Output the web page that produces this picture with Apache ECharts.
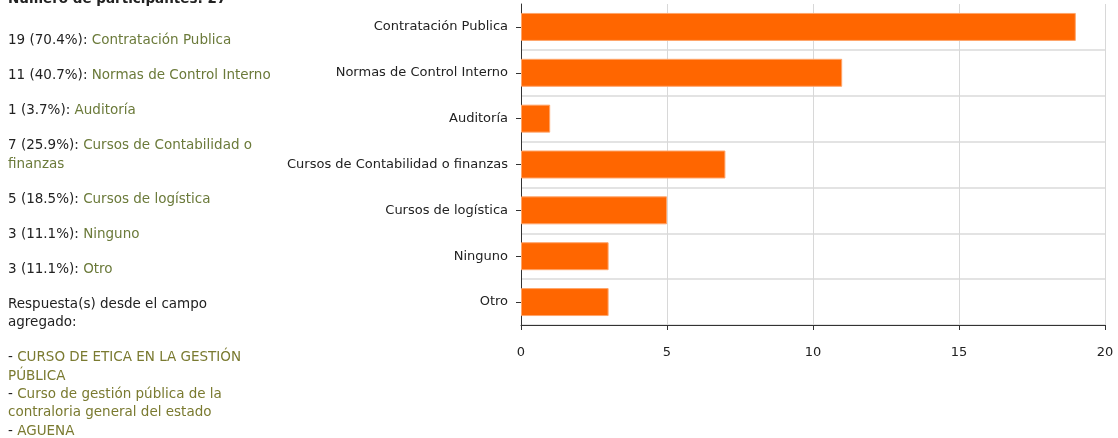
<!DOCTYPE html>
<html>
<head>
<meta charset="utf-8">
<script src="https://cdn.jsdelivr.net/npm/echarts@6/dist/echarts.min.js"></script>
<style>
  html, body { margin: 0; padding: 0; background: #fff; overflow: hidden; }
  #chart { position: absolute; left: 0; top: 0; width: 1118px; height: 438px; }
  #side {
    position: absolute; left: 8px; top: -5px; width: 272px;
    font-family: "DejaVu Sans", Verdana, sans-serif; font-size: 13.5px;
    line-height: 18.3px; color: #222;
  }
  #side p { margin: 0 0 16.8px 0; }
  #side p.head { font-weight: bold; position: relative; top: -6px; }
  #side p.narrow { width: 235px; }
  #side div { width: 245px; }
  #side .lbl { color: #6b7a3a; }
  #side .extra { color: #7a7a30; }
</style>
</head>
<body>
<div id="chart"></div>
<div id="side"></div>
<script>
// categorias y conteos
const categories = [
  'Contratación Publica',
  'Normas de Control Interno',
  'Auditoría',
  'Cursos de Contabilidad o finanzas',
  'Cursos de logística',
  'Ninguno',
  'Otro'
]
const counts = [19, 11, 1, 7, 5, 3, 3]
const totalParticipants = 27
const xTicks = [0, 5, 10, 15, 20]
const extraAnswers = [
  'CURSO DE ETICA EN LA GESTIÓN PÚBLICA',
  'Curso de gestión pública de la contraloria general del estado',
  'AGUENA'
]

// panel de texto a la izquierda
let html = '<p class="head">Número de participantes: ' + totalParticipants + '</p>'
categories.forEach((c, i) => {
  const pct = (counts[i] / totalParticipants * 100).toFixed(1)
  html += '<p>' + counts[i] + ' (' + pct + '%): <span class="lbl">' + c + '</span></p>'
})
html += '<p class="narrow">Respuesta(s) desde el campo agregado:</p>'
html += '<div>' + extraAnswers.map(a => '- <span class="extra">' + a + '</span>').join('<br>') + '</div>'
document.getElementById('side').innerHTML = html

const chart = echarts.init(document.getElementById('chart'), null, { renderer: 'canvas' })

const option = {
  animation: false,
  textStyle: { fontFamily: 'DejaVu Sans, Verdana, sans-serif' },
  grid: { left: 521, right: 13, top: 4, bottom: 113, containLabel: false },
  xAxis: {
    type: 'value',
    min: xTicks[0],
    max: xTicks[xTicks.length - 1],
    interval: 5,
    axisLine: { show: true, lineStyle: { color: '#333', width: 1 } },
    axisTick: { show: true, length: 5, lineStyle: { color: '#333' } },
    axisLabel: { color: '#222', fontSize: 13, margin: 21 },
    splitLine: { show: true, lineStyle: { color: '#d8d8d8' } }
  },
  yAxis: {
    type: 'category',
    data: categories,
    inverse: true,
    axisLine: { show: true, lineStyle: { color: '#333', width: 1 } },
    axisTick: { show: true, alignWithLabel: true, length: 5, lineStyle: { color: '#333' } },
    axisLabel: { color: '#222', fontSize: 13, margin: 13 },
    splitLine: {
      show: true,
      interval: (idx) => idx > 0,
      lineStyle: { color: '#e3e3e3', width: 2 }
    }
  },
  series: [
    {
      type: 'bar',
      data: counts,
      barCategoryGap: '39%',
      itemStyle: { color: '#ff6600', borderColor: '#ffa56a', borderWidth: 1 }
    }
  ]
}

chart.setOption(option)
</script>
</body>
</html>
